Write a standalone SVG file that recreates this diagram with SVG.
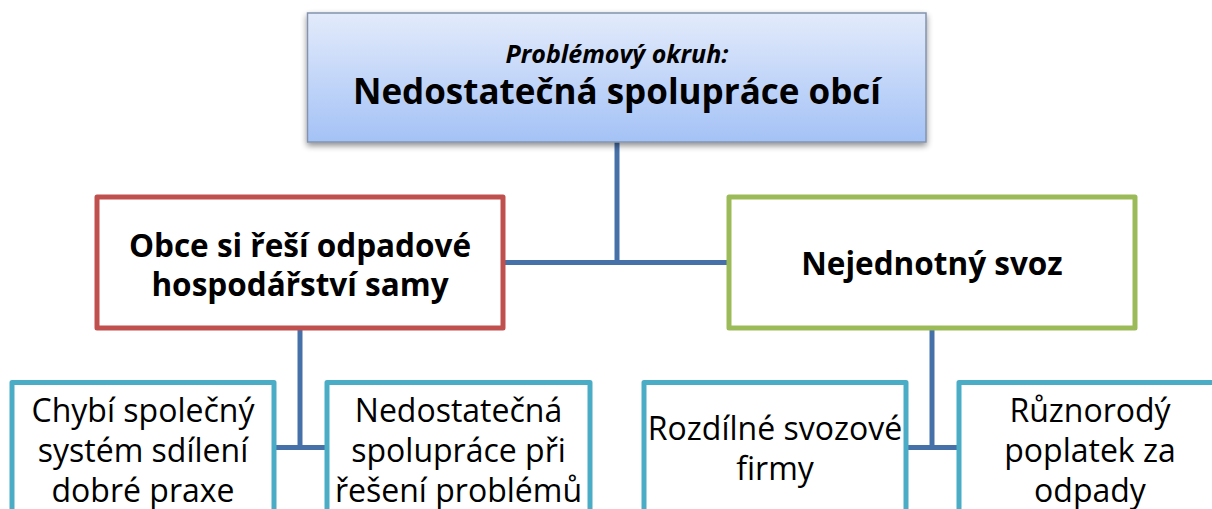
<svg xmlns="http://www.w3.org/2000/svg" width="1212" height="509" viewBox="0 0 1212 509">
<defs>
<linearGradient id="topGrad" x1="0" y1="0" x2="0" y2="1">
<stop offset="0" stop-color="#e3ebfb"/>
<stop offset="1" stop-color="#a4c2f6"/>
</linearGradient>
<filter id="shadow" x="-5%" y="-10%" width="110%" height="130%">
<feGaussianBlur in="SourceAlpha" stdDeviation="3"/>
<feOffset dx="0" dy="3" result="b"/>
<feComponentTransfer><feFuncA type="linear" slope="0.45"/></feComponentTransfer>
<feMerge><feMergeNode/><feMergeNode in="SourceGraphic"/></feMerge>
</filter>
</defs>
<style>
.conn{stroke:#4570a8;stroke-width:5;fill:none}
.box{fill:#fff;stroke-width:5;stroke-linejoin:round}
.red{stroke:#c0504d}
.green{stroke:#9bbb59}
.aqua{stroke:#4bacc6}
text{font-family:"Open Sans","Liberation Sans",sans-serif;fill:#000;text-anchor:middle}
.b{font-weight:bold}
.t2{font-size:31.5px}
.t3{font-size:32px}
</style>
<rect width="1212" height="509" fill="#fff"/>
<g id="connectors">
<line class="conn" x1="617" y1="142" x2="617" y2="262.5"/>
<line class="conn" x1="503" y1="262.5" x2="729" y2="262.5"/>
<line class="conn" x1="300" y1="328" x2="300" y2="447.5"/>
<line class="conn" x1="274" y1="447.5" x2="327" y2="447.5"/>
<line class="conn" x1="932" y1="328" x2="932" y2="447.5"/>
<line class="conn" x1="906" y1="447.5" x2="959" y2="447.5"/>
</g>
<g id="root">
<rect x="307.5" y="13" width="618.5" height="129" fill="url(#topGrad)" stroke="#8393ad" stroke-width="1.5" filter="url(#shadow)"/>
<text x="617" y="63" font-size="25" font-weight="bold" font-style="italic">Problémový okruh:</text>
<text x="617" y="104" font-size="35" class="b">Nedostatečná spolupráce obcí</text>
</g>
<g id="n-obce">
<rect class="box red" x="97" y="197" width="406" height="131"/>
<text class="b t2" x="300" y="257">Obce si řeší odpadové</text>
<text class="b t2" x="300" y="296">hospodářství samy</text>
</g>
<g id="n-svoz">
<rect class="box green" x="729" y="197" width="406" height="131"/>
<text class="b t2" x="932" y="275">Nejednotný svoz</text>
</g>
<g id="n-chybi">
<rect class="box aqua" x="12" y="382.5" width="262" height="150"/>
<text class="t3" x="143" y="422">Chybí společný</text>
<text class="t3" x="143" y="462">systém sdílení</text>
<text class="t3" x="143" y="502">dobré praxe</text>
</g>
<g id="n-nedostatecna">
<rect class="box aqua" x="327" y="382.5" width="263" height="150"/>
<text class="t3" x="458.5" y="422">Nedostatečná</text>
<text class="t3" x="458.5" y="462">spolupráce při</text>
<text class="t3" x="458.5" y="502">řešení problémů</text>
</g>
<g id="n-rozdilne">
<rect class="box aqua" x="644" y="382.5" width="262" height="150"/>
<text class="t3" x="775" y="440">Rozdílné svozové</text>
<text class="t3" x="775" y="480">firmy</text>
</g>
<g id="n-ruznorody">
<rect class="box aqua" x="959" y="382.5" width="262" height="150"/>
<text class="t3" x="1090" y="422">Různorodý</text>
<text class="t3" x="1090" y="462">poplatek za</text>
<text class="t3" x="1090" y="502">odpady</text>
</g>
</svg>
